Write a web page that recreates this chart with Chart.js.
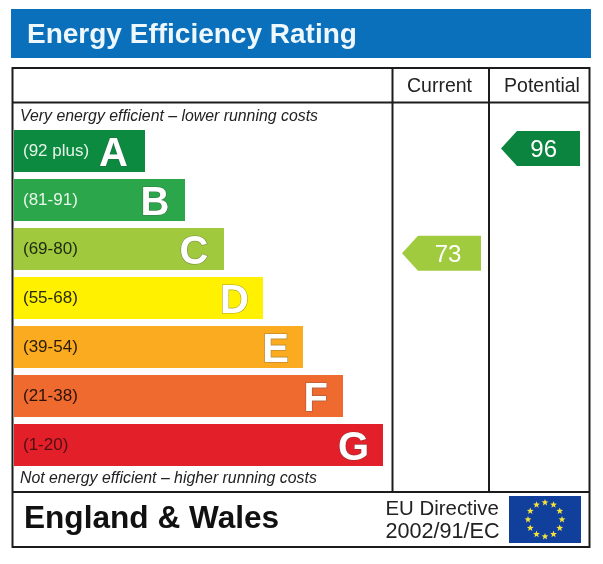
<!DOCTYPE html>
<html>
<head>
<meta charset="utf-8">
<title>Energy Efficiency Rating</title>
<script src="https://cdn.jsdelivr.net/npm/chart.js@4"></script>
<style>
  html, body { margin: 0; padding: 0; background: #fff; }
  canvas { display: block; }
</style>
</head>
<body>
<canvas id="epc" width="603" height="564"></canvas>
<script>
const bandRanges = ["(92 plus)", "(81-91)", "(69-80)", "(55-68)", "(39-54)", "(21-38)", "(1-20)"];
const bandLetters = ["A", "B", "C", "D", "E", "F", "G"];
const bandLengths = [131, 171, 210, 249, 289, 329, 369];
const bandColors = ["#0b8a40", "#2ba64a", "#a0c93e", "#fff100", "#fbab20", "#ee6a2e", "#e31f2a"];
const rangeColors = ["#e4f4e8", "#e8f6ea", "#1d2a10", "#2a2a10", "#2a1c08", "#2a1208", "#4f1014"];
const columnNames = ["Current", "Potential"];
const columnRatings = [73, 96];
const ratingColors = ["#a0cb3e", "#0a843f"];

const FONT = '"Liberation Sans", Arial, sans-serif';
const LETTER_INSETS = [17, 15.5, 15.5, 14, 14, 15, 14];

function text(ctx, str, x, y, font, color, align) {
    ctx.font = font;
    ctx.fillStyle = color;
    ctx.textAlign = align || "left";
    ctx.textBaseline = "alphabetic";
    ctx.fillText(str, x, y);
}

function star(ctx, cx, cy, r) {
    ctx.beginPath();
    for (let i = 0; i < 10; i++) {
        const a = -Math.PI / 2 + i * Math.PI / 5;
        const d = i % 2 ? r * 0.42 : r;
        ctx.lineTo(cx + Math.cos(a) * d, cy + Math.sin(a) * d);
    }
    ctx.closePath();
    ctx.fill();
}

const labelPlugin = {
    id: "labelPlugin",

    beforeDraw(chart) {
        const ctx = chart.ctx;
        ctx.save();
        ctx.fillStyle = "#fff";
        ctx.fillRect(0, 0, 603, 564);

        // header
        ctx.fillStyle = "#0a70bc";
        ctx.fillRect(11, 9, 580, 49);
        text(ctx, "Energy Efficiency Rating", 27, 42.5, "bold 28px " + FONT, "#eef7fc");

        // frame
        ctx.strokeStyle = "#1c1c1c";
        ctx.lineWidth = 2;
        ctx.strokeRect(12.5, 68, 577, 479);
        ctx.beginPath();
        ctx.moveTo(12.5, 102.5); ctx.lineTo(589.5, 102.5);
        ctx.moveTo(12.5, 492); ctx.lineTo(589.5, 492);
        ctx.moveTo(392.5, 68); ctx.lineTo(392.5, 492);
        ctx.moveTo(489, 68); ctx.lineTo(489, 492);
        ctx.stroke();

        // captions
        text(ctx, columnNames[0], 439.5, 92, "19.5px " + FONT, "#222", "center");
        text(ctx, columnNames[1], 542, 92, "19.5px " + FONT, "#222", "center");
        text(ctx, "Very energy efficient \u2013 lower running costs", 20, 121, "italic 15.85px " + FONT, "#222");
        text(ctx, "Not energy efficient \u2013 higher running costs", 20, 483, "italic 15.85px " + FONT, "#222");

        // footer
        text(ctx, "England & Wales", 24, 528, "bold 31.6px " + FONT, "#111");
        text(ctx, "EU Directive", 385.5, 515, "20.4px " + FONT, "#222");
        text(ctx, "2002/91/EC", 385.5, 538, "21.6px " + FONT, "#222");

        // EU flag
        ctx.fillStyle = "#10409c";
        ctx.fillRect(509, 496, 72, 47);
        ctx.fillStyle = "#f4e23a";
        for (let i = 0; i < 12; i++) {
            const a = i * Math.PI / 6;
            star(ctx, 545 + Math.sin(a) * 17, 519.5 - Math.cos(a) * 17, 3.6);
        }
        ctx.restore();
    },

    afterDatasetsDraw(chart) {
        const ctx = chart.ctx;
        const bars = chart.getDatasetMeta(0).data;
        const ratingScale = chart.scales.rating;
        ctx.save();

        // band letters, white with a faint grey edge
        bars.forEach((bar, i) => {
            const x = bar.x - LETTER_INSETS[i];
            ctx.font = "bold 40px " + FONT;
            ctx.textAlign = "right";
            ctx.textBaseline = "alphabetic";
            ctx.lineWidth = 1.2;
            ctx.strokeStyle = "rgba(70,70,70,0.45)";
            ctx.strokeText(bandLetters[i], x, bar.y + 15);
            ctx.fillStyle = "#fff";
            ctx.fillText(bandLetters[i], x, bar.y + 15);
        });

        // rating arrows, placed on the score scale
        const tips = [402, 501];
        const numberX = [448, 543.7];
        columnRatings.forEach((rating, i) => {
            const y = ratingScale.getPixelForValue(rating);
            const tip = tips[i];
            ctx.fillStyle = ratingColors[i];
            ctx.beginPath();
            ctx.moveTo(tip, y);
            ctx.lineTo(tip + 16, y - 17.5);
            ctx.lineTo(tip + 79, y - 17.5);
            ctx.lineTo(tip + 79, y + 17.5);
            ctx.lineTo(tip + 16, y + 17.5);
            ctx.closePath();
            ctx.fill();
            text(ctx, String(rating), numberX[i], y + 8.5, "24px " + FONT, "#fff", "center");
        });
        ctx.restore();
    },
};

const noWidth = scale => { scale.width = 0; };

new Chart(document.getElementById("epc"), {
    type: "bar",
    data: {
        labels: bandRanges,
        datasets: [{
            data: bandLengths,
            backgroundColor: bandColors,
            borderWidth: 0,
            barPercentage: 42 / 49,
            categoryPercentage: 1,
        }],
    },
    options: {
        indexAxis: "y",
        responsive: false,
        animation: false,
        layout: { padding: { left: 14, right: 14, top: 126.5, bottom: 94.5 } },
        plugins: {
            legend: { display: false },
            title: { display: false },
            tooltip: { enabled: false },
        },
        scales: {
            x: { type: "linear", min: 0, max: 575, display: false },
            y: {
                type: "category",
                afterFit: noWidth,
                grid: { display: false, drawTicks: false },
                border: { display: false },
                ticks: {
                    mirror: true,
                    padding: 9,
                    z: 1,
                    color: rangeColors,
                    font: { family: "Liberation Sans", size: 17 },
                },
            },
            rating: {
                type: "linear",
                axis: "y",
                position: "right",
                offset: false, // bar charts turn this on for the y axis by default
                min: 25.6,
                max: 100.8,
                afterFit: noWidth,
                grid: { display: false, drawTicks: false },
                border: { display: false },
                ticks: { display: false },
            },
        },
    },
    plugins: [labelPlugin],
});
</script>
</body>
</html>
